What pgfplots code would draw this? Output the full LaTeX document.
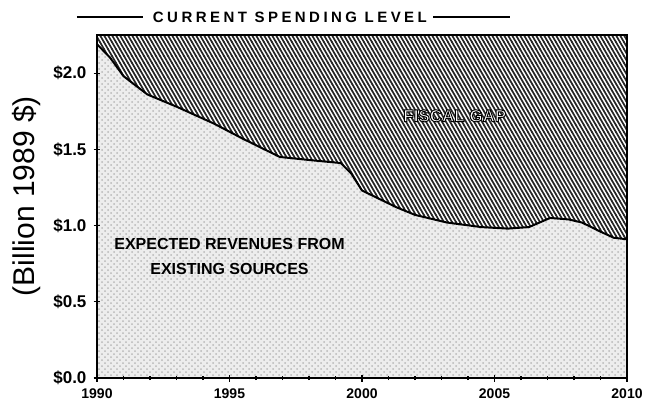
\documentclass[border=0pt]{standalone}
\usepackage{fontspec}
\setmainfont{Liberation Sans}
\usepackage{pgfplots}
\usepackage{pgfplotstable}
\pgfplotsset{compat=1.18}
\usetikzlibrary{patterns, calc}

% steep dense hatch for the fiscal gap
\pgfdeclarepatternformonly{gaphatch}{\pgfqpoint{-1pt}{-1pt}}{\pgfqpoint{3pt}{4.46pt}}{\pgfqpoint{2pt}{3.46pt}}{
  \pgfsetlinewidth{0.85pt}
  \pgfpathmoveto{\pgfqpoint{-0.1pt}{3.633pt}}
  \pgfpathlineto{\pgfqpoint{2.1pt}{-0.173pt}}
  \pgfusepath{stroke}}

% expected revenues from existing sources (billion 1989 $)
\pgfplotstableread{
year  rev
1990.0 2.19
1990.5 2.10
1991.0 1.98
1991.9 1.86
1993.0 1.78
1994.4 1.67
1995.5 1.57
1996.9 1.45
1998.0 1.43
1999.2 1.41
1999.6 1.34
2000.0 1.23
2001.3 1.12
2002.0 1.07
2003.2 1.02
2004.5 0.99
2005.5 0.98
2006.3 0.99
2007.1 1.05
2007.8 1.04
2008.3 1.02
2009.0 0.96
2009.5 0.92
2010.0 0.91
}\revdata

\begin{document}
\begin{tikzpicture}
\begin{axis}[
  name=ax,
  scale only axis,
  width=265pt, height=171.5pt,
  xmin=1990, xmax=2010, ymin=0, ymax=2.25,
  xtick={1990,1995,2000,2005,2010},
  xticklabels={1990,1995,2000,2005,2010},
  minor x tick num=4,
  ytick={0,0.5,1,1.5,2},
  yticklabels={\$0.0,\$0.5,\$1.0,\$1.5,\$2.0},
  xtick pos=bottom, ytick pos=left,
  tick align=center,
  major tick length=3.5pt, minor tick length=2pt,
  tick style={black, line width=0.6pt},
  xticklabel style={font=\bfseries\fontsize{7}{8}\selectfont},
  yticklabel style={font=\bfseries\fontsize{8.5}{9}\selectfont},
  axis line style={line width=0.8pt},
  axis on top,
  clip=false,
  ylabel={(Billion 1989 \$)},
  ylabel style={at={(axis description cs:-0.133,0.53)}, anchor=center,
    font=\fontsize{15}{16}\selectfont},
]
  % fiscal gap: everything up to the current spending level
  \addplot[draw=none, pattern=gaphatch, pattern color=black!85]
    coordinates {(1990,2.25) (2010,2.25)} \closedcycle;
  % revenues cover the lower part
  \addplot[draw=none, fill=black!7,
    postaction={pattern=crosshatch dots, pattern color=black!28}]
    table[x=year, y=rev] {\revdata} \closedcycle;
  \addplot[black, line width=1pt] table[x=year, y=rev] {\revdata};

  \node[font=\bfseries\fontsize{8.5}{9}\selectfont]
    at (axis cs:2003.5,1.72)
    {\color{white}\special{pdf:literal direct 0 G 2 Tr 0.5 w}FISCAL GAP\special{pdf:literal direct 0 Tr}};
  \node[font=\bfseries\fontsize{8}{12.5}\selectfont, align=center]
    at (axis cs:1995,0.80) {EXPECTED REVENUES FROM\\EXISTING SOURCES};

  % current spending level: heavy top edge and heading
  \draw[line width=1.3pt] (rel axis cs:0,1) -- (rel axis cs:1,1);
  \node[font=\bfseries\fontsize{7.5}{8}\selectfont\addfontfeatures{LetterSpace=23}]
    at ([yshift=9pt]rel axis cs:0.364,1) {CURRENT SPENDING LEVEL};
  \draw[line width=1pt] ([yshift=9pt]rel axis cs:-0.038,1) -- ([yshift=9pt]rel axis cs:0.087,1);
  \draw[line width=1pt] ([yshift=9pt]rel axis cs:0.634,1) -- ([yshift=9pt]rel axis cs:0.779,1);
\end{axis}
\pgfresetboundingbox
\path ([shift={(-48.5pt,-12pt)}]ax.south west) rectangle ([shift={(15pt,17.5pt)}]ax.north east);
\end{tikzpicture}
\end{document}
